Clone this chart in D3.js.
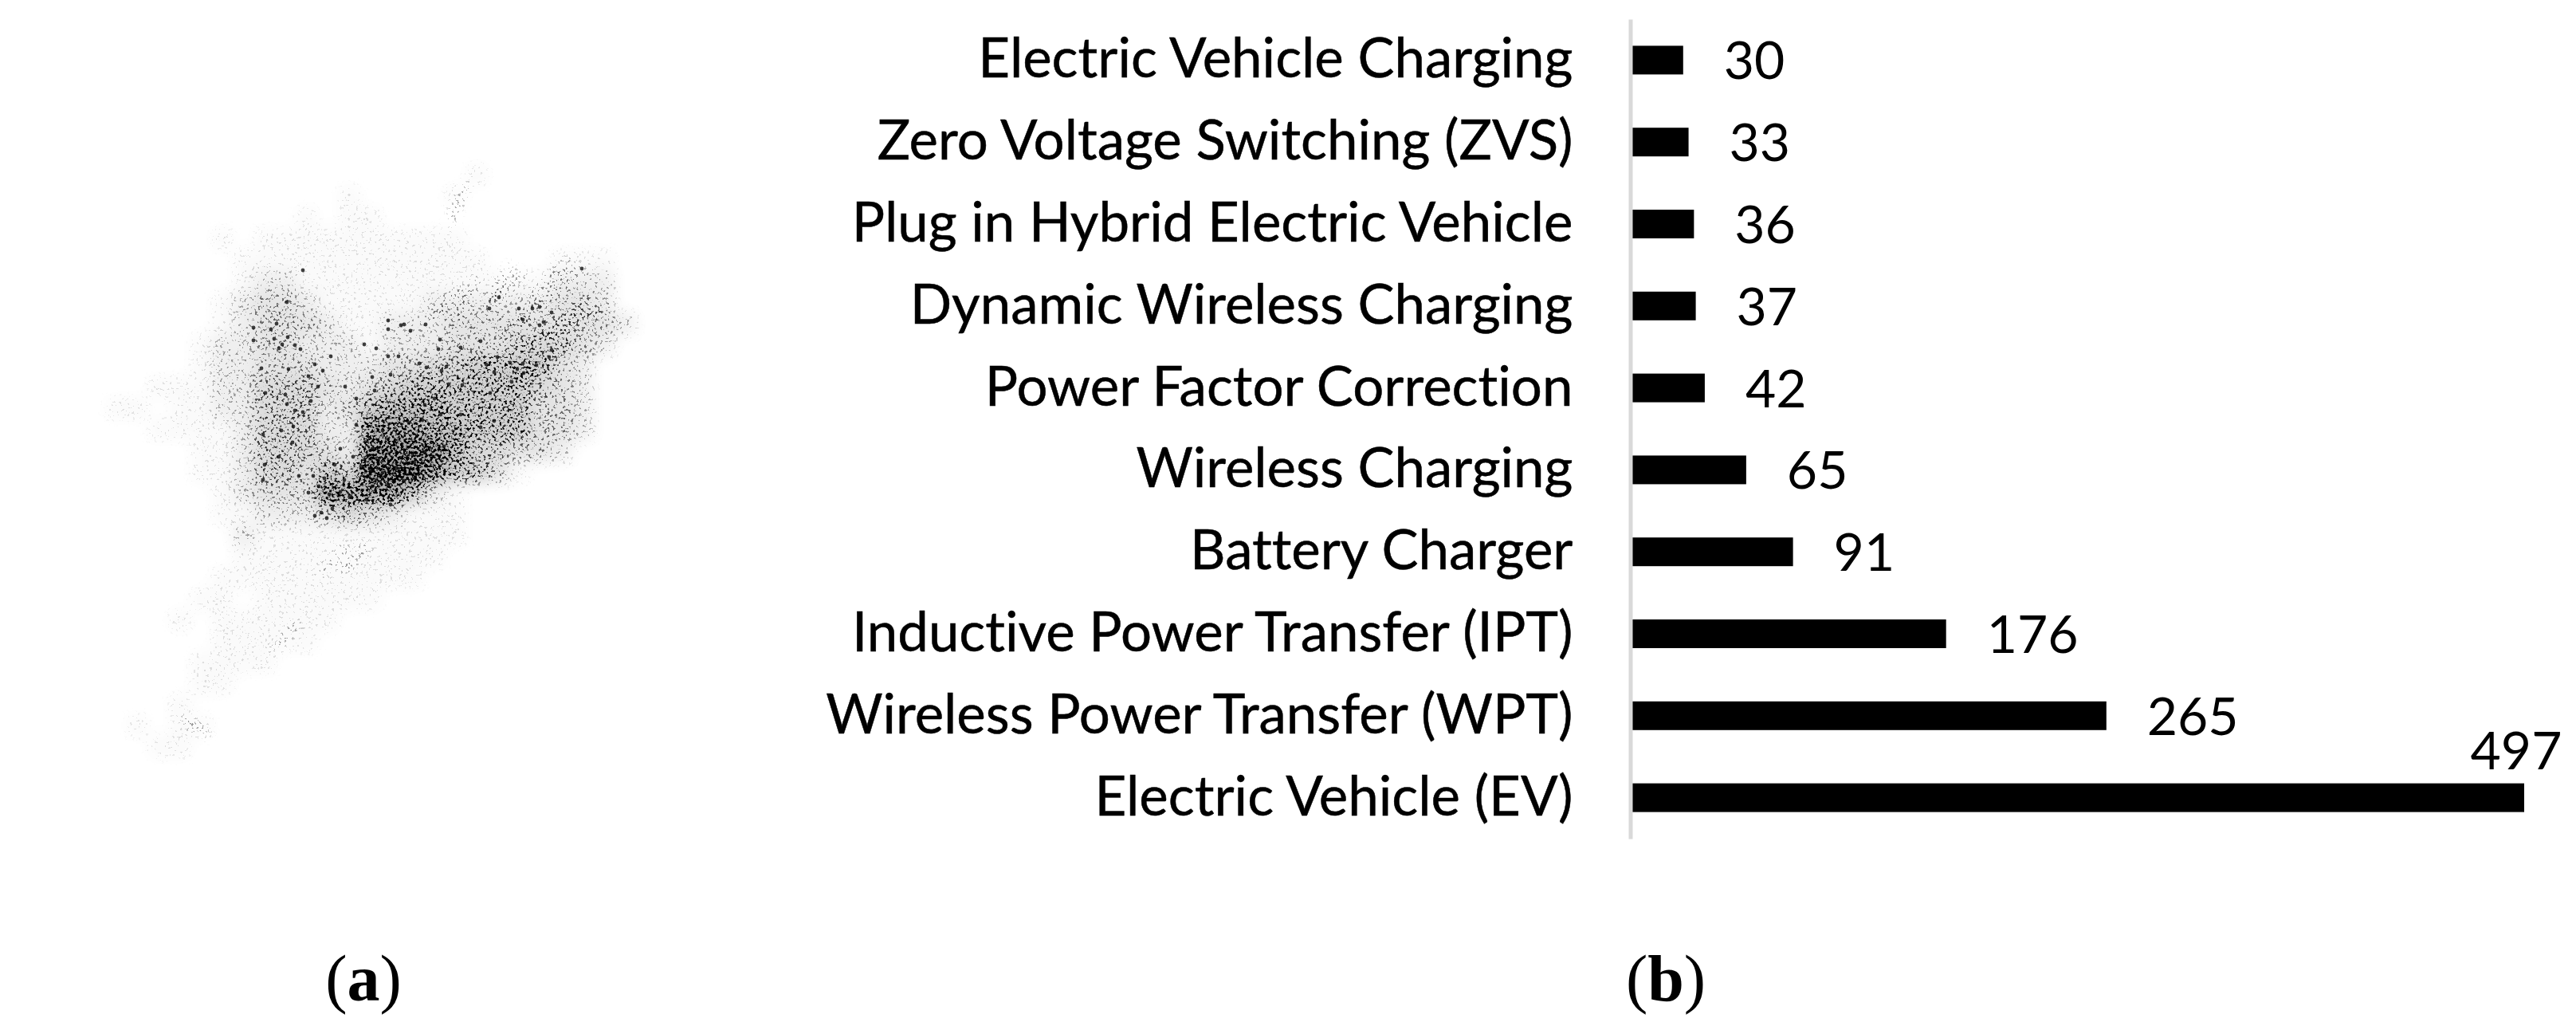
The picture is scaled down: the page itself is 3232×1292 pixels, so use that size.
<!DOCTYPE html>
<html>
<head>
<meta charset="utf-8">
<script src="https://cdn.jsdelivr.net/npm/d3@7"></script>
<style>
html,body{margin:0;padding:0;background:#fff}
svg{display:block}
text{font-variant-ligatures:none;font-feature-settings:"liga" 0}
</style>
</head>
<body>
<svg id="c" width="3232" height="1292"></svg>
<script>
// ---------- panel (b) data ----------
const categories = ["Electric Vehicle Charging","Zero Voltage Switching (ZVS)","Plug in Hybrid Electric Vehicle","Dynamic Wireless Charging","Power Factor Correction","Wireless Charging","Battery Charger","Inductive Power Transfer (IPT)","Wireless Power Transfer (WPT)","Electric Vehicle (EV)"];
const counts = [30,33,36,37,42,65,91,176,265,497];
const panelLabels = ["a","b"];

// ---------- panel (a) data: darkness read by eye per map cell (0 to 9) ----------
const densityRows = [
"00000000000000000000000000000000",
"00000000000000000000001000000000",
"00000000000000001000010000000000",
"00000000000000101100000000000000",
"00000000001011111111110000000000",
"00000000000111111111111000111000",
"00000000000122111111111111222000",
"00000000001233211111222222332000",
"00000000001233321122233333333200",
"00000000012233222122233344432000",
"00000000012233322233445555320000",
"00000001112244432345555554320000",
"00000110112244423566655553320000",
"00000001111244422777665553320000",
"00000000011244432888864433200000",
"00000000011244354999755310000000",
"00000000001233377775210000000000",
"00000000001122234321110000000000",
"00000000000211111111110000000000",
"00000000000111111111100000000000",
"00000000001111111111000000000000",
"00000000011011111100000000000000",
"00000000101111110000000000000000",
"00000000001111100000000000000000",
"00000000011110000000000000000000",
"00000000011000000000000000000000",
"00000000100000000000000000000000",
"00000010110000000000000000000000",
"00000001100000000000000000000000",
"00000000000000000000000000000000",
"00000000000000000000000000000000",
"00000000000000000000000000000000"
];
const speckX = [360,380,318,318,340,347,361,344,354,370,377,350,415,395,405,362,387,328,399,358,333,390,370,380,360,487,487,503,507,515,457,472,487,500,467,490,470,433,447,730,626,651,668,677,692,614,656,682,677,534,603,578,552,550,692,689,673,656,657,649,640,624,610,620,554,535,526,560,642,615,580,563,545,533,578,603,620,553,530,453,432,487,460,413,417,403,395,410,490,330,332,350,367,375,330,353,368,557,533,507,480,513,447,427,443,467,420,407,480,497,520,467,440,427,400,393,387];
const speckY = [379,339,411,427,413,406,423,425,432,433,438,437,447,457,465,463,472,462,485,495,493,503,515,517,507,402,413,408,407,415,432,437,447,447,473,470,490,485,500,337,373,387,387,385,392,387,401,404,408,407,428,436,426,438,439,448,458,456,468,463,455,448,457,467,465,461,456,460,479,493,483,482,500,508,520,536,528,520,527,585,602,608,627,620,638,643,647,650,633,602,583,573,555,597,545,540,535,560,567,603,540,530,533,563,573,563,583,600,593,587,580,610,623,617,610,597,618];
const streakX1 = [717,763,730,740,720,642,600,657,577,374,434,461,260,585];
const streakY1 = [325,380,337,378,427,332,347,342,358,782,684,684,922,229];
const streakX2 = [660,690,640,650,630,610,575,620,545,341,401,428,230,564];
const streakY2 = [375,425,410,440,490,385,395,375,400,817,722,717,901,283];

const svg = d3.select("#c");
const defs = svg.append("defs");
// soft base wash
defs.append("filter").attr("id","soft").attr("x","-10%").attr("y","-10%").attr("width","120%").attr("height","120%")
  .attr("color-interpolation-filters","sRGB")
  .append("feGaussianBlur").attr("stdDeviation",9);
// grain: the blurred density raster is stippled so that it reads as a point cloud
const grain = defs.append("filter").attr("id","grain").attr("filterUnits","userSpaceOnUse")
  .attr("x",0).attr("y",180).attr("width",860).attr("height",850)
  .attr("color-interpolation-filters","sRGB");
grain.append("feGaussianBlur").attr("in","SourceGraphic").attr("stdDeviation",6).attr("result","blur");
grain.append("feTurbulence").attr("type","fractalNoise").attr("baseFrequency",.3).attr("numOctaves",2).attr("seed",7).attr("result","t");
grain.append("feColorMatrix").attr("in","t").attr("type","matrix")
  .attr("values","0 0 0 0 0  0 0 0 0 0  0 0 0 0 0  3.1 0 0 0 -1.1").attr("result","n");
grain.append("feComposite").attr("in","blur").attr("in2","n").attr("operator","arithmetic")
  .attr("k1",0).attr("k2",2.2).attr("k3",2.2).attr("k4",-2.2);
defs.append("filter").attr("id","dot").attr("x","-20%").attr("y","-20%").attr("width","140%").attr("height","140%")
  .append("feGaussianBlur").attr("stdDeviation",.7);

// ---------- panel (a) ----------
const mapX = d3.scaleLinear().domain([0,850]).range([0,850]);
const mapY = d3.scaleLinear().domain([180,1030]).range([180,1030]);
const colIdx = d3.range(32), rowIdx = d3.range(32);
const cellX = d3.scaleBand().domain(colIdx).range([mapX(0),mapX(850)]);
const cellY = d3.scaleBand().domain(rowIdx).range([mapY(180),mapY(1030)]);
const alpha = d3.scaleLinear().domain([0,1,2,3,4,5,6,7,8,9]).range([0,.05,.16,.25,.34,.44,.55,.68,.8,.9]);
const cells = densityRows.flatMap((row,r)=>row.split("").map((v,c)=>({r,c,v:+v}))).filter(d=>d.v>0);
const pa = svg.append("g");
const drawCells = g => g.selectAll("rect").data(cells).join("rect")
  .attr("x",d=>cellX(d.c)).attr("y",d=>cellY(d.r))
  .attr("width",cellX.bandwidth()+.5).attr("height",cellY.bandwidth()+.5)
  .attr("fill","#000").attr("fill-opacity",d=>alpha(d.v));
pa.append("g").attr("filter","url(#soft)").attr("opacity",.4).call(drawCells);
const stip = pa.append("g").attr("filter","url(#grain)");
stip.append("g").call(drawCells);
stip.append("g").selectAll("line").data(streakX1.map((x,i)=>i)).join("line")
  .attr("x1",i=>mapX(streakX1[i])).attr("y1",i=>mapY(streakY1[i]))
  .attr("x2",i=>mapX(streakX2[i])).attr("y2",i=>mapY(streakY2[i]))
  .attr("stroke","#000").attr("stroke-width",4).attr("stroke-opacity",.5);
pa.append("g").attr("filter","url(#dot)").selectAll("circle").data(speckX.map((x,i)=>i)).join("circle")
  .attr("cx",i=>mapX(speckX[i])).attr("cy",i=>mapY(speckY[i])).attr("r",2.4)
  .attr("fill","#111").attr("fill-opacity",.8);

// ---------- panel (b) ----------
const x = d3.scaleLinear().domain([0,497]).range([2044,3167]);
const y = d3.scaleBand().domain(categories).range([24,1052]).paddingInner(.65).paddingOuter(.325);
svg.append("g").selectAll("rect").data(categories).join("rect")
  .attr("x",x(0)).attr("y",d=>y(d))
  .attr("width",(d,i)=>x(counts[i])-x(0)).attr("height",y.bandwidth()).attr("fill","#000");
const yAxis = svg.append("g").attr("transform",`translate(2045.5,0)`)
  .call(d3.axisLeft(y).tickSize(0).tickPadding(72));
yAxis.select(".domain").attr("stroke","#d9d9d9").attr("stroke-width",5);
yAxis.selectAll("text").attr("font-family","Lato").attr("font-size",69).attr("fill","#000").attr("dy","0.32em")
  .attr("stroke","#000").attr("stroke-width",.5);
svg.append("g").selectAll("text").data(categories).join("text")
  .attr("x",(d,i)=>i===9?x(counts[i])-10:x(counts[i])+51)
  .attr("y",(d,i)=>i===9?y(d)+y.bandwidth()/2-36:y(d)+y.bandwidth()/2+24)
  .attr("text-anchor",(d,i)=>i===9?"middle":"start")
  .attr("font-family","Lato").attr("font-size",66).attr("fill","#000")
  .text((d,i)=>counts[i]);

// panel captions
const capX = [456,2090];
const cap = svg.append("g").selectAll("text").data(panelLabels).join("text")
  .attr("x",(d,i)=>capX[i]).attr("y",1255).attr("text-anchor","middle")
  .attr("font-family","Liberation Serif").attr("font-size",82).attr("fill","#000");
cap.append("tspan").text("(");
cap.append("tspan").attr("font-weight","bold").text(d=>d);
cap.append("tspan").text(")");
</script>
</body>
</html>
